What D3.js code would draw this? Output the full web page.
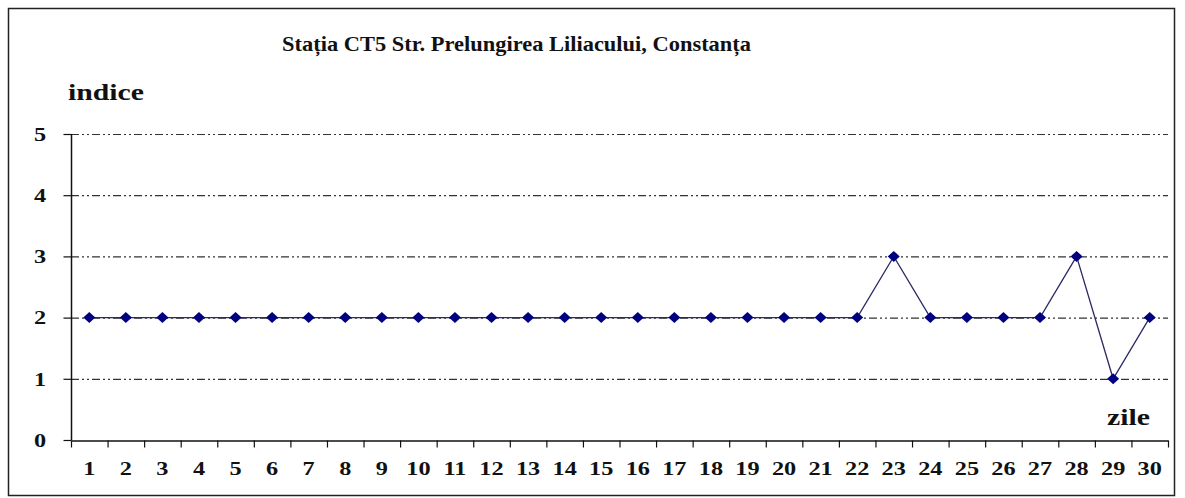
<!DOCTYPE html>
<html><head><meta charset="utf-8">
<script src="https://cdn.jsdelivr.net/npm/d3@7"></script>
<style>body{margin:0;background:#fff}</style>
</head><body>
<script>
const titleText = "Stația CT5  Str. Prelungirea Liliacului, Constanța";
const yAxisLabel = "indice";
const xAxisLabel = "zile";
const days = d3.range(1, 31).map(String);
const indexValues = [2,2,2,2,2,2,2,2,2,2,2,2,2,2,2,2,2,2,2,2,2,2,3,2,2,2,2,3,1,2];
const yTicks = [0,1,2,3,4,5];

const W = 1185, H = 498;
const FONT = "'Liberation Serif','Times New Roman',serif";
const svg = d3.select("body").append("svg").attr("width", W).attr("height", H)
  .style("font-family", FONT);

svg.append("rect").attr("x", 8.5).attr("y", 8.5).attr("width", 1166).attr("height", 487)
  .attr("fill", "#fff").attr("stroke", "#222").attr("stroke-width", 1.5);

const x = d3.scaleBand().domain(days).range([71, 1168]);
const y = d3.scaleLinear().domain([0, 5]).range([440, 134]);

// gridlines
svg.append("g").selectAll("line").data(yTicks.filter(t => t > 0)).join("line")
  .attr("x1", 71).attr("x2", 1168)
  .attr("y1", d => y(d) + 0.5).attr("y2", d => y(d) + 0.5)
  .attr("stroke", "#333").attr("stroke-width", 1.2)
  .attr("stroke-dasharray", "8,3,2,3,2,3");

// y axis
const ya = svg.append("g").attr("transform", "translate(71.5,0)")
  .call(d3.axisLeft(y).tickValues(yTicks).tickSize(8).tickFormat(d3.format("d")));
ya.select(".domain").attr("stroke", "#111").attr("stroke-width", 1.5).attr("d", `M0,${y(0)}V${y(5)}`);
ya.selectAll(".tick line").attr("stroke", "#111").attr("stroke-width", 1.2);
ya.selectAll("text")
  .attr("x", 0).attr("dy", "0.35em").attr("text-anchor", "middle")
  .attr("transform", "translate(-31.5,0) scale(1.35,1)")
  .attr("font-size", 18).attr("font-weight", "bold").attr("fill", "#111")
  .attr("font-family", FONT);

// x axis
const xa = svg.append("g").attr("transform", `translate(0,${y(0) + 0.5})`)
  .call(d3.axisBottom(x).tickSize(0).tickPadding(22));
xa.select(".domain").attr("stroke", "#111").attr("stroke-width", 1.5);
xa.selectAll("text").attr("transform", "scale(1.35,1)")
  .attr("font-size", 18).attr("font-weight", "bold").attr("fill", "#111")
  .attr("font-family", FONT);
// tick marks between categories
const bounds = days.map(d => x(d)).concat([x.range()[1]]);
xa.append("g").selectAll("line").data(bounds).join("line")
  .attr("x1", d => d + 0.5).attr("x2", d => d + 0.5).attr("y1", 0).attr("y2", 7)
  .attr("stroke", "#111").attr("stroke-width", 1.2);

// line
const cx = d => x(d) + x.bandwidth() / 2;
const line = d3.line().x((v, i) => cx(days[i])).y(v => y(v));
svg.append("path").datum(indexValues).attr("d", line)
  .attr("fill", "none").attr("stroke", "#2a2a66").attr("stroke-width", 1.3);

// markers
const diamondType = { draw(ctx, size) { const w = 6, h = 5.5;
  ctx.moveTo(0, -h); ctx.lineTo(w, 0); ctx.lineTo(0, h); ctx.lineTo(-w, 0); ctx.closePath(); } };
const diamond = d3.symbol().type(diamondType);
svg.append("g").selectAll("path").data(indexValues).join("path")
  .attr("transform", (v, i) => `translate(${cx(days[i])},${y(v)})`)
  .attr("d", diamond).attr("fill", "#000080");

// labels
svg.append("text").attr("x", 282).attr("y", 51)
  .attr("font-size", 22).attr("font-weight", "bold").attr("fill", "#111")
  .attr("textLength", 469).attr("lengthAdjust", "spacingAndGlyphs").text(titleText);
svg.append("text").attr("x", 68).attr("y", 100)
  .attr("font-size", 23).attr("font-weight", "bold").attr("fill", "#111")
  .attr("textLength", 76).attr("lengthAdjust", "spacingAndGlyphs").text(yAxisLabel);
svg.append("text").attr("x", 1107).attr("y", 425)
  .attr("font-size", 23).attr("font-weight", "bold").attr("fill", "#111")
  .attr("textLength", 43).attr("lengthAdjust", "spacingAndGlyphs").text(xAxisLabel);
</script>
</body></html>
